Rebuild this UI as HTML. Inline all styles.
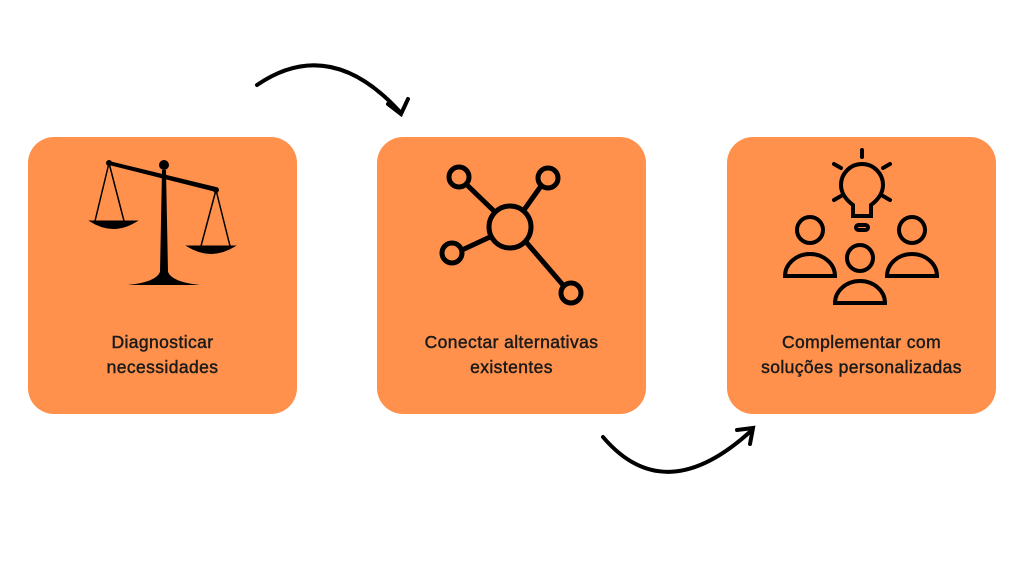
<!DOCTYPE html>
<html><head><style>
html,body{margin:0;padding:0;background:#fff;}
body{width:1024px;height:576px;overflow:hidden;position:relative;font-family:"Liberation Sans",sans-serif;}
.box{position:absolute;top:137px;width:269px;height:277px;background:#FF914D;border-radius:26px;}
.t{position:absolute;left:0;width:100%;text-align:center;top:193px;font-size:17.5px;line-height:25px;color:#1a1a1a;letter-spacing:0.4px;-webkit-text-stroke:0.45px #1a1a1a;}
svg{position:absolute;left:0;top:0;}
</style></head><body>
<div class="box" style="left:28px"><div class="t">Diagnosticar<br>necessidades</div></div>
<div class="box" style="left:377px"><div class="t">Conectar alternativas<br>existentes</div></div>
<div class="box" style="left:727px"><div class="t">Complementar com<br>soluções personalizadas</div></div>
<svg width="1024" height="576" viewBox="0 0 1024 576">
<g fill="none" stroke="#000" stroke-width="4" stroke-linecap="round">
<path d="M257 85 Q330 35 400 112"/>
<path d="M388 104 L401 114 L408 99"/>
<path d="M603 437 Q665 510 752 430"/>
<path d="M737 430 L753 428 L750 444"/>
</g>
<g fill="#000" stroke="#000">
<path d="M109 161 L216 187 L216 192 L109 165Z" stroke="none"/>
<circle cx="109" cy="163" r="2.5"/><circle cx="216" cy="190" r="2.5"/>
<circle cx="164" cy="165" r="4.5"/>
<path d="M162 170 L166 170 L168 272 Q172 282 200 285 L128 285 Q156 282 160 272Z" stroke="none"/>
<g fill="none" stroke-width="1.5"><path d="M109 163 L95 221 M109 163 L124 221 M216 190 L201 246 M216 190 L230 246"/></g>
<path d="M90 221 L137 221 Q113 236 90 221Z"/>
<path d="M187 246 L235 246 Q211 261 187 246Z"/>
</g>
<g fill="none" stroke="#000" stroke-width="5">
<circle cx="510" cy="227" r="21"/>
<circle cx="459" cy="177" r="10"/><circle cx="548" cy="178" r="10"/>
<circle cx="452" cy="253" r="10"/><circle cx="571" cy="293" r="10"/>
<path d="M466 184 L495 212 M541 186 L524 210 M462 250 L490 237 M526 242 L563 285"/>
</g>
<g fill="none" stroke="#000" stroke-width="4" stroke-linecap="round">
<path d="M853 216 L853 205 Q841 196 841 185 A21 21 0 1 1 883 185 Q883 196 871 205 L871 216Z"/>
<rect x="856" y="225" width="12" height="5" rx="2.5"/>
<path d="M862 150 L862 157 M834 164 L841 168 M890 164 L883 168 M834 200 L841 196 M890 200 L883 196"/>
<circle cx="810" cy="230" r="13"/><circle cx="912" cy="230" r="13"/><circle cx="860" cy="258" r="13"/>
<path d="M785 276 A25 22 0 0 1 835 276Z"/>
<path d="M887 276 A25 22 0 0 1 937 276Z"/>
<path d="M835 303 A25 22 0 0 1 885 303Z"/>
</g>
</svg>
</body></html>
